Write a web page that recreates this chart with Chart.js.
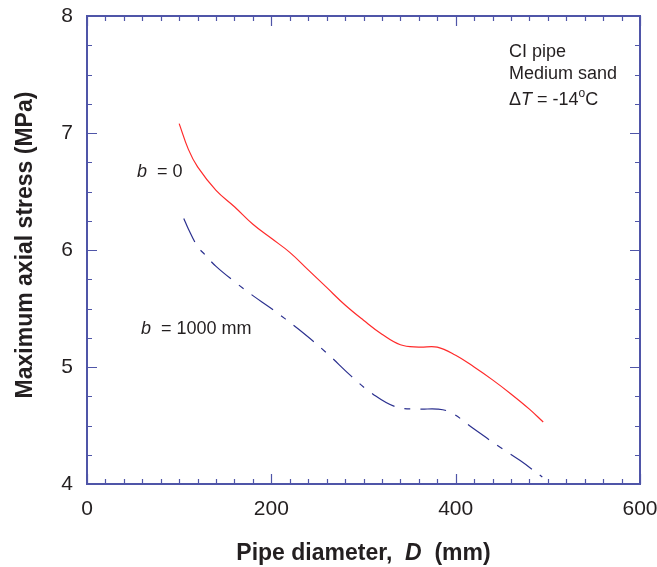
<!DOCTYPE html>
<html>
<head>
<meta charset="utf-8">
<script src="https://cdn.jsdelivr.net/npm/chart.js@4/dist/chart.umd.min.js"></script>
<style>
  html, body { margin: 0; padding: 0; background: #fff; }
  #wrap { width: 657px; height: 567px; }
</style>
</head>
<body>
<div id="wrap"><canvas id="chart" width="657" height="567"></canvas></div>
<script>
// Data
const diameterB0 = [100, 110, 120, 140, 160, 180, 200, 220, 240, 260, 280, 300, 320, 340, 360, 380, 400, 420, 440, 460, 480, 495];
const stressB0 = [7.08, 6.86, 6.71, 6.51, 6.37, 6.22, 6.10, 5.98, 5.83, 5.68, 5.53, 5.40, 5.28, 5.19, 5.17, 5.17, 5.10, 5.00, 4.89, 4.77, 4.64, 4.53];

const diameterB1000 = [105, 110, 120, 128, 140, 160, 180, 200, 230, 260, 287, 310, 335, 360, 380, 395, 420, 447, 470, 494];
const stressB1000 = [6.27, 6.18, 6.03, 5.96, 5.86, 5.73, 5.61, 5.50, 5.32, 5.12, 4.92, 4.77, 4.66, 4.64, 4.64, 4.61, 4.47, 4.32, 4.20, 4.06];

const xTicks = [0, 200, 400, 600];
const yTicks = [4, 5, 6, 7, 8];

const AXIS_COLOR = '#4f55a8';
const FONT = 'Liberation Sans, Arial, sans-serif';

function toPoints(xs, ys) {
    return xs.map((x, i) => ({ x: x, y: ys[i] }));
}

// Frame with inward major/minor ticks on all four sides
const framePlugin = {
    id: 'frame',
    afterDraw(chart) {
        const ctx = chart.ctx;
        const a = chart.chartArea;
        const xs = chart.scales.x;
        const ys = chart.scales.y;
        ctx.save();
        ctx.strokeStyle = AXIS_COLOR;
        ctx.lineWidth = 2;
        ctx.strokeRect(a.left, a.top, a.right - a.left, a.bottom - a.top);
        ctx.lineWidth = 1.2;
        ctx.beginPath();
        for (let v = 0; v <= 600; v += 20) {
            const px = Math.round(xs.getPixelForValue(v)) + 0.5;
            const len = v % 200 === 0 ? 10 : 5;
            ctx.moveTo(px, a.bottom); ctx.lineTo(px, a.bottom - len);
            ctx.moveTo(px, a.top); ctx.lineTo(px, a.top + len);
        }
        for (let i = 0; i <= 16; i++) {
            const v = 4 + i * 0.25;
            const py = Math.round(ys.getPixelForValue(v)) + 0.5;
            const len = i % 4 === 0 ? 10 : 5;
            ctx.moveTo(a.left, py); ctx.lineTo(a.left + len, py);
            ctx.moveTo(a.right, py); ctx.lineTo(a.right - len, py);
        }
        ctx.stroke();
        ctx.restore();
    }
};

// Draws a run of [text, font, dy] pieces starting at x
function drawRuns(ctx, runs, x, y) {
    runs.forEach(r => {
        ctx.font = r[1];
        const dy = r[2] || 0;
        ctx.fillText(r[0], x, y + dy);
        x += ctx.measureText(r[0]).width;
    });
    return x;
}

function runsWidth(ctx, runs) {
    let w = 0;
    runs.forEach(r => { ctx.font = r[1]; w += ctx.measureText(r[0]).width; });
    return w;
}

const labelsPlugin = {
    id: 'labels',
    afterDraw(chart) {
        const ctx = chart.ctx;
        const a = chart.chartArea;
        ctx.save();
        ctx.fillStyle = '#231f20';
        ctx.textBaseline = 'alphabetic';
        ctx.textAlign = 'left';

        // x-axis title
        const xt = [
            ['Pipe diameter,  ', 'bold 23px ' + FONT],
            ['D', 'italic bold 23px ' + FONT],
            ['  (mm)', 'bold 23px ' + FONT]
        ];
        const cx = (a.left + a.right) / 2;
        drawRuns(ctx, xt, cx - runsWidth(ctx, xt) / 2, 560);

        // y-axis title
        ctx.save();
        ctx.translate(32, 245);
        ctx.rotate(-Math.PI / 2);
        ctx.textAlign = 'center';
        ctx.font = 'bold 23px ' + FONT;
        ctx.fillText('Maximum axial stress (MPa)', 0, 0);
        ctx.restore();

        // annotations
        const f = '18px ' + FONT;
        const fi = 'italic 18px ' + FONT;
        drawRuns(ctx, [['b', fi], ['  = 0', f]], 137, 177);
        drawRuns(ctx, [['b', fi], ['  = 1000 mm', f]], 141, 334);
        drawRuns(ctx, [['CI pipe', f]], 509, 57);
        drawRuns(ctx, [['Medium sand', f]], 509, 79);
        drawRuns(ctx, [['\u0394', f], ['T', fi], [' = -14', f], ['o', '12px ' + FONT, -8], ['C', f]], 509, 105);
        ctx.restore();
    }
};

new Chart(document.getElementById('chart'), {
    type: 'line',
    data: {
        datasets: [
            {
                label: 'b = 0',
                data: toPoints(diameterB0, stressB0),
                borderColor: '#ff2a2a',
                borderWidth: 1.2,
                pointRadius: 0,
                tension: 0.4,
                fill: false
            },
            {
                label: 'b = 1000 mm',
                data: toPoints(diameterB1000, stressB1000),
                borderColor: '#2b308f',
                borderWidth: 1.2,
                borderDash: [26, 10, 6, 10],
                pointRadius: 0,
                tension: 0.4,
                fill: false
            }
        ]
    },
    options: {
        responsive: false,
        animation: false,
        layout: { padding: { top: 16, right: 17, left: 0, bottom: 0 } },
        plugins: {
            legend: { display: false },
            tooltip: { enabled: false }
        },
        scales: {
            x: {
                type: 'linear',
                min: 0,
                max: 600,
                afterBuildTicks: s => { s.ticks = xTicks.map(v => ({ value: v })); },
                afterFit: s => { s.height = 83; s.paddingLeft = 0; s.paddingRight = 0; },
                grid: { display: false, drawTicks: false },
                border: { display: false },
                ticks: {
                    padding: 13,
                    color: '#231f20',
                    font: { family: FONT, size: 21 },
                    maxRotation: 0
                }
            },
            y: {
                type: 'linear',
                min: 4,
                max: 8,
                afterBuildTicks: s => { s.ticks = yTicks.map(v => ({ value: v })); },
                afterFit: s => { s.width = 87; s.paddingTop = 0; s.paddingBottom = 0; },
                grid: { display: false, drawTicks: false },
                border: { display: false },
                ticks: {
                    padding: 14,
                    color: '#231f20',
                    font: { family: FONT, size: 21 }
                }
            }
        }
    },
    plugins: [framePlugin, labelsPlugin]
});
</script>
</body>
</html>
